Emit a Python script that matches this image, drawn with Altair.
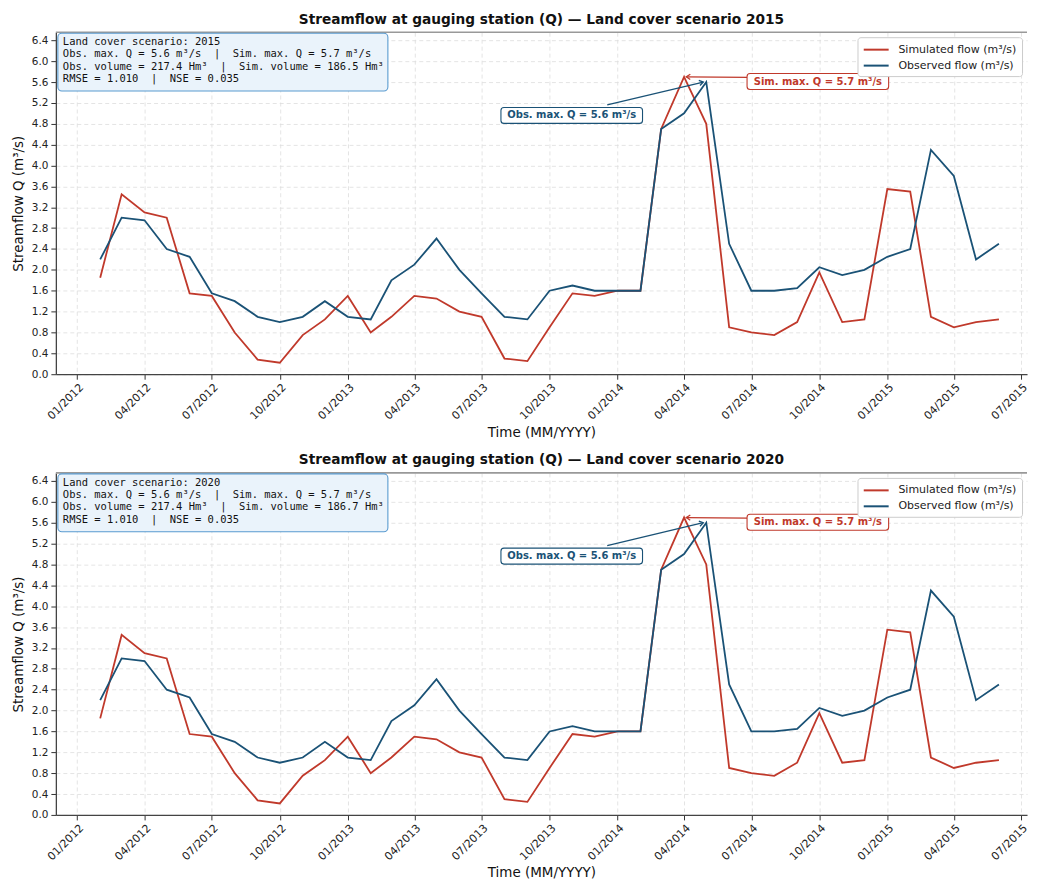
import altair as alt
import pandas as pd

# ---------------- data ----------------
months = [
    "2012-02-01", "2012-03-01", "2012-04-01", "2012-05-01", "2012-06-01", "2012-07-01",
    "2012-08-01", "2012-09-01", "2012-10-01", "2012-11-01", "2012-12-01",
    "2013-01-01", "2013-02-01", "2013-03-01", "2013-04-01", "2013-05-01", "2013-06-01",
    "2013-07-01", "2013-08-01", "2013-09-01", "2013-10-01", "2013-11-01", "2013-12-01",
    "2014-01-01", "2014-02-01", "2014-03-01", "2014-04-01", "2014-05-01", "2014-06-01",
    "2014-07-01", "2014-08-01", "2014-09-01", "2014-10-01", "2014-11-01", "2014-12-01",
    "2015-01-01", "2015-02-01", "2015-03-01", "2015-04-01", "2015-05-01", "2015-06-01",
]
observed = [
    2.20, 3.00, 2.95, 2.40, 2.25, 1.55, 1.40, 1.10, 1.00, 1.10, 1.40,
    1.10, 1.05, 1.80, 2.10, 2.60, 2.00, 1.55, 1.10, 1.05, 1.60, 1.70, 1.60,
    1.60, 1.60, 4.70, 5.00, 5.60, 2.50, 1.60, 1.60, 1.65, 2.05, 1.90, 2.00,
    2.25, 2.40, 4.30, 3.80, 2.20, 2.50,
]
simulated = [
    1.85, 3.45, 3.10, 3.00, 1.55, 1.50, 0.80, 0.28, 0.22, 0.75, 1.05,
    1.50, 0.80, 1.10, 1.50, 1.45, 1.20, 1.10, 0.30, 0.25, 0.90, 1.55, 1.50,
    1.60, 1.60, 4.70, 5.70, 4.80, 0.90, 0.80, 0.75, 1.00, 1.95, 1.00, 1.05,
    3.55, 3.50, 1.10, 0.90, 1.00, 1.05,
]
tick_dates = [
    "2012-01-01", "2012-04-01", "2012-07-01", "2012-10-01",
    "2013-01-01", "2013-04-01", "2013-07-01", "2013-10-01",
    "2014-01-01", "2014-04-01", "2014-07-01", "2014-10-01",
    "2015-01-01", "2015-04-01", "2015-07-01",
]
y_ticks = [0.0, 0.4, 0.8, 1.2, 1.6, 2.0, 2.4, 2.8, 3.2, 3.6, 4.0, 4.4, 4.8, 5.2, 5.6, 6.0, 6.4]
scenarios = ["2015", "2020"]
sim_volumes = ["186.5", "186.7"]
obs_volume = "217.4"
obs_max, sim_max = 5.6, 5.7
rmse, nse = "1.010", "0.035"

SIM = "Simulated flow (m³/s)"
OBS = "Observed flow (m³/s)"
RED = "#c0392b"
BLUE = "#1a5276"
W, H = 974, 343
FONT = "DejaVu Sans"
NB = "\u00a0"


def dt(s):
    y, m, d = (int(v) for v in s.split("-"))
    return alt.DateTime(year=y, month=m, date=d, utc=True)


x_scale = alt.Scale(type="utc", domain=[dt("2011-12-03"), dt("2015-07-09")])
y_scale = alt.Scale(domain=[0, 6.555], nice=False, zero=False)

series = pd.DataFrame(
    {"date": months * 2, "value": simulated + observed, "series": [SIM] * len(months) + [OBS] * len(months)}
)
one = pd.DataFrame({"k": [0]})

x_axis = alt.Axis(
    values=[dt(s) for s in tick_dates], labelExpr="utcFormat(datum.value, '%m/%Y')",
    labelAngle=-45, labelAlign="right", labelBaseline="top", labelPadding=2,
    labelFontSize=11, labelColor="#222", labelFont=FONT, labelOverlap=False,
    tickSize=5, tickColor="#333", domainColor="#444", domainWidth=1.3,
    grid=True, gridColor="#dddddd", gridDash=[4, 3], gridWidth=0.8,
    title="Time (MM/YYYY)", titleFontSize=13.5, titleFont=FONT, titleFontWeight="normal",
    titleColor="#111", titlePadding=7, minExtent=44, maxExtent=44,
)
y_axis = alt.Axis(
    values=y_ticks, format=".1f", labelFontSize=10.5, labelColor="#222", labelFont=FONT,
    labelOverlap=False, labelPadding=3, tickSize=5, tickColor="#333", domainColor="#444",
    domainWidth=1.3, grid=True, gridColor="#dddddd", gridDash=[4, 3], gridWidth=0.8,
    title="Streamflow Q (m³/s)", titleFontSize=13.5, titleFont=FONT, titleFontWeight="normal",
    titleColor="#111", titlePadding=5, minExtent=25, maxExtent=25,
)


def X(field):
    return alt.X(field, scale=x_scale, axis=x_axis, title="Time (MM/YYYY)")


def Y(field):
    return alt.Y(field, scale=y_scale, axis=y_axis, title="Streamflow Q (m³/s)")


def panel(year, sim_vol):
    legend = alt.Legend(
        title=None, orient="top-right", offset=5, fillColor="white", strokeColor="#cccccc",
        cornerRadius=3, padding=5, symbolType="M-1,0H3", symbolSize=156, symbolStrokeWidth=2,
        labelFontSize=11, labelFont=FONT, labelColor="#222", labelOffset=21, rowPadding=3,
    )
    lines = alt.Chart(series).mark_line(strokeWidth=1.8).encode(
        x=X("date:T"),
        y=Y("value:Q"),
        color=alt.Color("series:N", scale=alt.Scale(domain=[SIM, OBS], range=[RED, BLUE]),
                        legend=legend, sort=[SIM, OBS]),
    )

    top_spine = alt.Chart(one).mark_rule(color="#999999", strokeWidth=1.6).encode(
        x=alt.value(0), x2=alt.value(W), y=alt.value(0)
    )

    info_lines = [
        f"Land cover scenario: {year}",
        f"Obs. max. Q = {obs_max} m³/s{NB}{NB}|{NB}{NB}Sim. max. Q = {sim_max} m³/s",
        f"Obs. volume = {obs_volume} Hm³{NB}{NB}|{NB}{NB}Sim. volume = {sim_vol} Hm³",
        f"RMSE = {rmse}{NB}{NB}|{NB}{NB}NSE = {nse}",
    ]
    info_box = alt.Chart(one).mark_rect(
        fill="#eaf3fb", stroke="#5a9bd0", strokeWidth=1.1, cornerRadius=4
    ).encode(x=alt.value(2), x2=alt.value(333), y=alt.value(1), y2=alt.value(59))
    info_text = alt.Chart(one).mark_text(
        align="left", baseline="top", font="DejaVu Sans Mono", fontSize=10.5, lineHeight=12.3, color="#111"
    ).encode(x=alt.value(7), y=alt.value(5), text=alt.value(info_lines))

    ann = pd.DataFrame({
        "tx": ["2014-09-29", "2013-10-31"],
        "ty": [5.61, 4.96],
        "label": [f"Sim. max. Q = {sim_max} m³/s", f"Obs. max. Q = {obs_max} m³/s"],
        "sx": ["2014-06-27", "2013-12-18"],
        "sy": [5.69, 5.16],
        "ex": ["2014-04-04", "2014-04-27"],
        "ey": [5.70, 5.60],
        "ang": [181, 346.5],
        "kind": ["sim", "obs"],
    })
    kscale = alt.Scale(domain=["sim", "obs"], range=[RED, BLUE])
    kcol = alt.Color("kind:N", scale=kscale, legend=None)
    arrows = alt.Chart(ann).mark_rule(strokeWidth=1.3).encode(
        x=X("sx:T"), y=Y("sy:Q"), x2="ex:T", y2="ey:Q", color=kcol,
    )
    heads = alt.Chart(ann).mark_point(
        shape="M-1,-0.65L0,0L-1,0.65", filled=False, size=64, strokeWidth=1.3, opacity=1
    ).encode(
        x=X("ex:T"), y=Y("ey:Q"), angle=alt.Angle("ang:Q", scale=None), color=kcol,
    )
    boxes = alt.Chart(ann).mark_rect(
        width=142, height=16, fill="white", strokeWidth=1.1, cornerRadius=3
    ).encode(x=X("tx:T"), y=Y("ty:Q"), stroke=alt.Stroke("kind:N", scale=kscale, legend=None))
    texts = alt.Chart(ann).mark_text(
        font=FONT, fontSize=10, fontWeight="bold", align="center", baseline="middle"
    ).encode(x=X("tx:T"), y=Y("ty:Q"), text="label:N", color=kcol)

    return alt.layer(
        lines, top_spine, info_box, info_text, arrows, heads, boxes, texts
    ).resolve_scale(color="independent", stroke="independent").properties(
        width=W, height=H,
        title=alt.TitleParams(
            f"Streamflow at gauging station (Q) — Land cover scenario {year}",
            font=FONT, fontSize=13.75, fontWeight="bold", color="#111", anchor="middle", offset=5,
        ),
    )


chart = alt.vconcat(*[panel(y, v) for y, v in zip(scenarios, sim_volumes)], spacing=14).properties(
    padding={"left": 4, "top": 3, "right": 0, "bottom": 0}
).configure_view(stroke=None)

chart.save("out.html", embed_options={"renderer": "svg", "actions": False})
